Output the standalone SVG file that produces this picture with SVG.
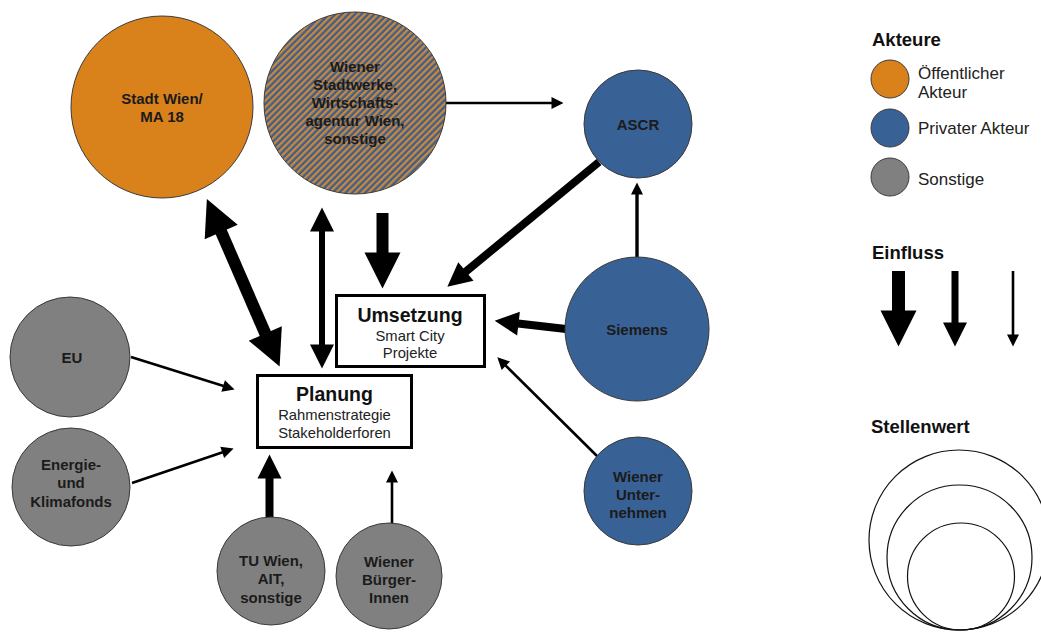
<svg xmlns="http://www.w3.org/2000/svg" width="1041" height="639" viewBox="0 0 1041 639">
  <style>
    .bg { fill: #ffffff; }
    .node { stroke: #3a3a3a; stroke-width: 1; }
    .pub { fill: #D9821C; }
    .priv { fill: #386195; }
    .misc { fill: #808080; }
    .mixed { fill: url(#stripes); }
    .lbl { font-family: "Liberation Sans", Arial, sans-serif; font-weight: bold; font-size: 15px; fill: #1b1b1b; text-anchor: middle; }
    .box { fill: #ffffff; stroke: #000000; stroke-width: 3; }
    .boxtitle { font-family: "Liberation Sans", Arial, sans-serif; font-weight: bold; font-size: 19.5px; fill: #111; text-anchor: middle; }
    .boxsub { font-family: "Liberation Sans", Arial, sans-serif; font-size: 14.8px; fill: #222; text-anchor: middle; }
    .edge { stroke: #000000; fill: none; }
    .w-xl { stroke-width: 12; }
    .w-l { stroke-width: 8; }
    .w-m { stroke-width: 6; }
    .w-s { stroke-width: 2.6; }
    .w-xs { stroke-width: 3.4; }
    .legend-h { font-family: "Liberation Sans", Arial, sans-serif; font-weight: bold; font-size: 18.5px; fill: #111; }
    .legend-t { font-family: "Liberation Sans", Arial, sans-serif; font-size: 17px; fill: #222; }
    .ring { fill: none; stroke: #111; stroke-width: 1.2; }
  </style>
  <defs>
    <pattern id="stripes" patternUnits="userSpaceOnUse" width="4.6" height="4.6" patternTransform="rotate(45)">
      <rect x="0" y="0" width="4.6" height="4.6" fill="#3F5E8A"/>
      <rect x="0" y="0" width="2.3" height="4.6" fill="#C8883E"/>
    </pattern>
    <marker id="head-xl" markerUnits="userSpaceOnUse" viewBox="0 0 36 36" markerWidth="36" markerHeight="36" refX="0.5" refY="18" orient="auto-start-reverse" overflow="visible">
      <path d="M0,0 L36,18 L0,36 Z" fill="#000"/>
    </marker>
    <marker id="head-l" markerUnits="userSpaceOnUse" viewBox="0 0 24 24" markerWidth="24" markerHeight="24" refX="0.5" refY="12" orient="auto-start-reverse" overflow="visible">
      <path d="M0,0 L24,12 L0,24 Z" fill="#000"/>
    </marker>
    <marker id="head-s" markerUnits="userSpaceOnUse" viewBox="0 0 12 12" markerWidth="12" markerHeight="12" refX="0.5" refY="6" orient="auto-start-reverse" overflow="visible">
      <path d="M0,0 L12,6 L0,12 Z" fill="#000"/>
    </marker>
  </defs>

  <rect class="bg" x="0" y="0" width="1041" height="639"/>

  <!-- connectors -->
  <g id="connectors">
    <line class="edge w-xl" x1="221" y1="231.5" x2="265.5" y2="334" marker-start="url(#head-xl)" marker-end="url(#head-xl)"/>
    <line class="edge w-m" x1="322" y1="231" x2="322" y2="345" marker-start="url(#head-l)" marker-end="url(#head-l)"/>
    <line class="edge w-xl" x1="382.5" y1="213" x2="382.5" y2="253" marker-end="url(#head-xl)"/>
    <line class="edge w-s" x1="420" y1="103" x2="552" y2="103" marker-end="url(#head-s)"/>
    <line class="edge w-l" x1="599" y1="162" x2="465.5" y2="271.8" marker-end="url(#head-l)"/>
    <line class="edge w-xs" x1="637" y1="258" x2="637" y2="194" marker-end="url(#head-s)"/>
    <line class="edge w-l" x1="566" y1="329" x2="518" y2="323.5" marker-end="url(#head-l)"/>
    <line class="edge w-s" x1="597" y1="456" x2="505.5" y2="365.4" marker-end="url(#head-s)"/>
    <line class="edge w-s" x1="131" y1="357" x2="223.6" y2="386.1" marker-end="url(#head-s)"/>
    <line class="edge w-s" x1="132" y1="483" x2="222.7" y2="452.2" marker-end="url(#head-s)"/>
    <line class="edge w-l" x1="269.5" y1="518" x2="269.5" y2="478" marker-end="url(#head-l)"/>
    <line class="edge w-s" x1="392" y1="524" x2="392" y2="482" marker-end="url(#head-s)"/>
  </g>

  <!-- actors -->
  <g id="stadt-wien">
    <circle class="node pub" cx="162" cy="107" r="91"/>
    <text class="lbl" x="162" y="104">Stadt Wien/</text>
    <text class="lbl" x="162" y="122">MA 18</text>
  </g>
  <g id="stadtwerke">
    <circle class="node mixed" cx="355" cy="103" r="91"/>
    <text class="lbl" x="355" y="72">Wiener</text>
    <text class="lbl" x="355" y="90">Stadtwerke,</text>
    <text class="lbl" x="355" y="108">Wirtschafts-</text>
    <text class="lbl" x="355" y="126">agentur Wien,</text>
    <text class="lbl" x="355" y="144">sonstige</text>
  </g>
  <g id="ascr">
    <circle class="node priv" cx="638" cy="124" r="54"/>
    <text class="lbl" x="638" y="130">ASCR</text>
  </g>
  <g id="siemens">
    <circle class="node priv" cx="637" cy="329" r="72"/>
    <text class="lbl" x="637" y="335">Siemens</text>
  </g>
  <g id="wiener-unternehmen">
    <circle class="node priv" cx="638" cy="491" r="54"/>
    <text class="lbl" x="638" y="482">Wiener</text>
    <text class="lbl" x="638" y="500">Unter-</text>
    <text class="lbl" x="638" y="518">nehmen</text>
  </g>
  <g id="eu">
    <circle class="node misc" cx="70" cy="357" r="60"/>
    <text class="lbl" x="72" y="363">EU</text>
  </g>
  <g id="klimafonds">
    <circle class="node misc" cx="71" cy="487" r="59"/>
    <text class="lbl" x="71" y="470">Energie-</text>
    <text class="lbl" x="71" y="488">und</text>
    <text class="lbl" x="71" y="507">Klimafonds</text>
  </g>
  <g id="tu-wien">
    <circle class="node misc" cx="271" cy="571" r="54"/>
    <text class="lbl" x="271" y="566">TU Wien,</text>
    <text class="lbl" x="271" y="584">AIT,</text>
    <text class="lbl" x="271" y="603">sonstige</text>
  </g>
  <g id="buergerinnen">
    <circle class="node misc" cx="389" cy="576" r="53"/>
    <text class="lbl" x="389" y="567">Wiener</text>
    <text class="lbl" x="389" y="585">Bürger-</text>
    <text class="lbl" x="389" y="603">Innen</text>
  </g>

  <!-- process boxes -->
  <g id="umsetzung">
    <rect class="box" x="336.5" y="295.5" width="148" height="71"/>
    <text class="boxtitle" x="410" y="322">Umsetzung</text>
    <text class="boxsub" x="410" y="341">Smart City</text>
    <text class="boxsub" x="410" y="358">Projekte</text>
  </g>
  <g id="planung">
    <rect class="box" x="257.5" y="375.5" width="154" height="72"/>
    <text class="boxtitle" x="334.5" y="401">Planung</text>
    <text class="boxsub" x="334.5" y="420">Rahmenstrategie</text>
    <text class="boxsub" x="334.5" y="438">Stakeholderforen</text>
  </g>

  <!-- legend -->
  <g id="legend-akteure">
    <text class="legend-h" x="872" y="46">Akteure</text>
    <circle class="node pub" cx="890" cy="79" r="19"/>
    <text class="legend-t" x="918" y="79">Öffentlicher</text>
    <text class="legend-t" x="918" y="98">Akteur</text>
    <circle class="node priv" cx="890" cy="128" r="19"/>
    <text class="legend-t" x="918" y="134">Privater Akteur</text>
    <circle class="node misc" cx="890" cy="177" r="19"/>
    <text class="legend-t" x="918" y="185">Sonstige</text>
  </g>
  <g id="legend-einfluss">
    <text class="legend-h" x="872" y="259">Einfluss</text>
    <line class="edge" stroke-width="13" x1="898.5" y1="271" x2="898.5" y2="311" marker-end="url(#head-xl)"/>
    <line class="edge" stroke-width="7" x1="955" y1="271" x2="955" y2="323" marker-end="url(#head-l)"/>
    <line class="edge" stroke-width="2.6" x1="1013" y1="271" x2="1013" y2="335" marker-end="url(#head-s)"/>
  </g>
  <g id="legend-stellenwert">
    <text class="legend-h" x="871" y="433">Stellenwert</text>
    <circle class="ring" cx="959" cy="540" r="90"/>
    <circle class="ring" cx="959.5" cy="557.5" r="72.5"/>
    <circle class="ring" cx="961" cy="576.5" r="53.5"/>
  </g>
</svg>
